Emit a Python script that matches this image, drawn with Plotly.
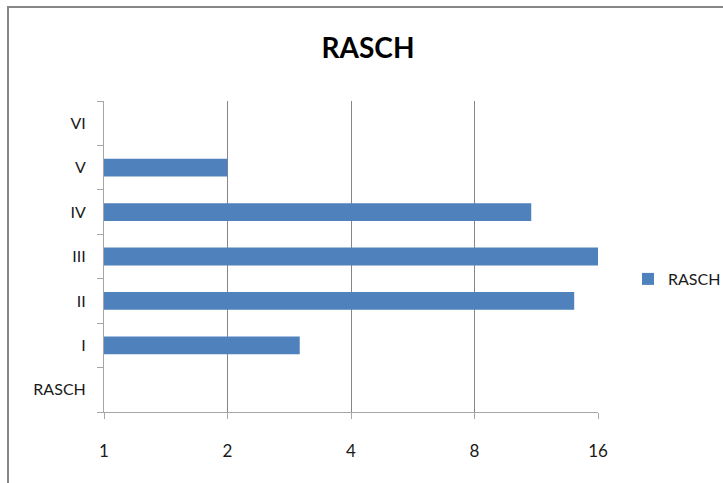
import plotly.graph_objects as go

categories = ["RASCH", "I", "II", "III", "IV", "V", "VI"]
values = [None, 3, 14, 16, 11, 2, None]
x_ticks = [1, 2, 4, 8, 16]
series_name = "RASCH"

fig = go.Figure()
fig.add_trace(go.Bar(
    y=categories, x=values, orientation="h", name=series_name,
    marker=dict(color="#4F81BD", line=dict(width=0)),
))

L, R, T, B = 104, 598, 101, 412
W, H = 723, 483
pw, ph = R - L, B - T

def px(x):
    return (x - L) / pw

def py(y):
    return (B - y) / ph

fig.update_layout(
    width=W, height=H,
    margin=dict(l=L, r=W - R, t=T, b=H - B, pad=0, autoexpand=False),
    paper_bgcolor="white", plot_bgcolor="white",
    font=dict(family="Lato, 'Open Sans', sans-serif", size=16, color="#1a1a1a"),
    title=dict(text="<b>RASCH</b>", x=px(368), xanchor="center", xref="paper",
               y=1 - 48 / H, yanchor="middle", yref="container",
               font=dict(size=28, color="#000000")),
    bargap=0.6,
    showlegend=True,
    legend=dict(x=px(628), xanchor="left", y=py(279), yanchor="middle",
                font=dict(size=16), itemwidth=30, bgcolor="rgba(0,0,0,0)",
                tracegroupgap=0),
    xaxis=dict(
        type="log", range=[0, 1.2041199827], tickvals=x_ticks,
        ticktext=[str(v) for v in x_ticks],
        showgrid=True, gridcolor="#868686", gridwidth=1,
        showline=True, linecolor="#A6A6A6", linewidth=1,
        ticks="outside", ticklen=6, tickcolor="#A6A6A6",
        ticklabelstandoff=18, zeroline=False, tickfont=dict(size=17),
    ),
    yaxis=dict(
        type="category", categoryorder="array", categoryarray=categories,
        range=[-0.5, 6.5],
        showgrid=False, showline=True, linecolor="#A6A6A6", linewidth=1,
        ticks="outside", ticklen=6, tickcolor="#A6A6A6", tickson="boundaries",
        ticklabelstandoff=14, zeroline=False,
    ),
    shapes=[dict(type="rect", xref="paper", yref="paper",
                 x0=px(8), y0=-0.5, x1=1.6, y1=py(7),
                 line=dict(color="#868686", width=2), fillcolor="rgba(0,0,0,0)",
                 layer="above")],
)

fig.write_html("out.html")
